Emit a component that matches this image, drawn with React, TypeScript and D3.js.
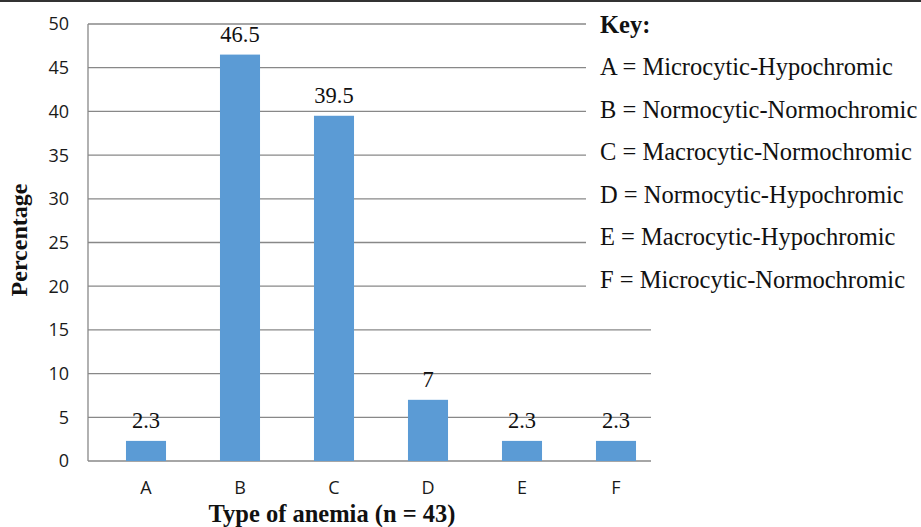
import React from "react";
import * as d3 from "d3";

const categories = ["A", "B", "C", "D", "E", "F"];
const values = [2.3, 46.5, 39.5, 7, 2.3, 2.3];
const valueLabels = ["2.3", "46.5", "39.5", "7", "2.3", "2.3"];
const yTicks = [0, 5, 10, 15, 20, 25, 30, 35, 40, 45, 50];
const keyTitle = "Key:";
const keyLines = [
  "A = Microcytic-Hypochromic",
  "B = Normocytic-Normochromic",
  "C = Macrocytic-Normochromic",
  "D = Normocytic-Hypochromic",
  "E = Macrocytic-Hypochromic",
  "F = Microcytic-Normochromic",
];
const xTitle = "Type of anemia (n = 43)";
const yTitle = "Percentage";

export default function App() {
  const W = 921, H = 527;
  const left = 88, right = 651, top = 24, bottom = 461;
  const x = d3.scaleBand<string>().domain(categories).range([99, 663]).paddingInner(0.574).paddingOuter(0.287);
  const y = d3.scaleLinear().domain([0, 50]).range([bottom, top]);
  const serif = "'Liberation Serif', 'Times New Roman', serif";
  const sans = "'Open Sans', 'Liberation Sans', sans-serif";
  const grid = "#888888";
  return (
    <svg width={W} height={H} style={{ position: "absolute", left: 0, top: 0, background: "#fff" }}>
      <rect x={0} y={0} width={W} height={H} fill="#fff" />
      <line x1={0} x2={W} y1={1} y2={1} stroke="#333" strokeWidth={2} />
      {yTicks.map((t) => (
        <g key={t}>
          <line x1={left} x2={right} y1={y(t)} y2={y(t)} stroke={grid} strokeWidth={1.3} />
          <text x={69} y={y(t)} dy="0.36em" textAnchor="end" fontFamily={sans} fontSize={18} fill="#1a1a1a">
            {t}
          </text>
        </g>
      ))}
      <line x1={left} x2={left} y1={top} y2={bottom} stroke={grid} strokeWidth={1.3} />
      {categories.map((c, i) => (
        <g key={c}>
          <rect x={x(c)} y={y(values[i])} width={x.bandwidth()} height={bottom - y(values[i])} fill="#5B9BD5" />
          <text x={(x(c) as number) + x.bandwidth() / 2} y={y(values[i]) - 13} textAnchor="middle" fontFamily={serif} fontSize={22.5} fill="#111">
            {valueLabels[i]}
          </text>
          <text x={(x(c) as number) + x.bandwidth() / 2} y={494} textAnchor="middle" fontFamily={sans} fontSize={18} fill="#1a1a1a">
            {c}
          </text>
        </g>
      ))}
      <rect x={586} y={3} width={W - 586} height={298} fill="#fff" />
      <text x={600} y={33} fontFamily={serif} fontSize={24.5} fontWeight="bold" fill="#111">
        {keyTitle}
      </text>
      {keyLines.map((k, i) => (
        <text key={k} x={600} y={75 + i * 42.6} fontFamily={serif} fontSize={24.5} fill="#111">
          {k}
        </text>
      ))}
      <text x={332} y={522} textAnchor="middle" fontFamily={serif} fontSize={24.5} fontWeight="bold" fill="#111">
        {xTitle}
      </text>
      <text transform={`translate(27,240) rotate(-90)`} textAnchor="middle" fontFamily={serif} fontSize={24} fontWeight="bold" fill="#111">
        {yTitle}
      </text>
    </svg>
  );
}
